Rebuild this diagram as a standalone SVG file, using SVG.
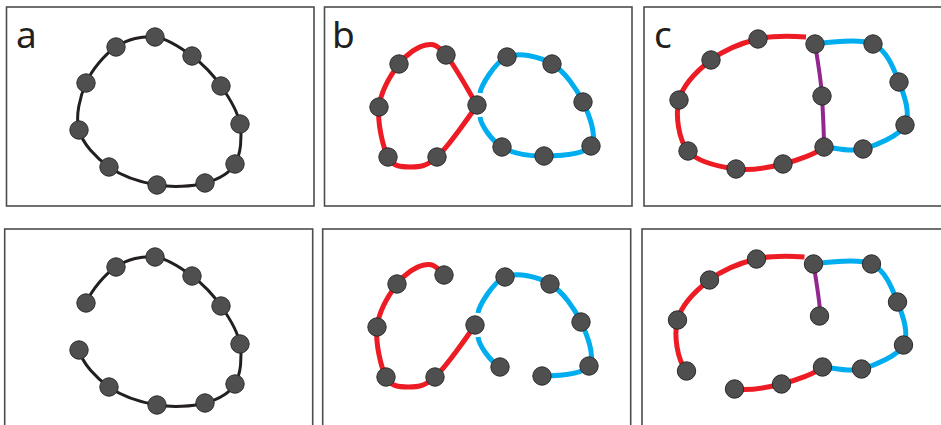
<svg xmlns="http://www.w3.org/2000/svg" width="941" height="425" viewBox="0 0 941 425">
  <style>
    .frame { fill: #ffffff; stroke: #4d4d4d; stroke-width: 1.6; }
    .label { font-family: "Noto Sans", "Open Sans", sans-serif; font-size: 37px; fill: #231f20; }
    .link { fill: none; stroke-linecap: butt; stroke-linejoin: round; }
    .black { stroke: #231f20; stroke-width: 3; }
    .red { stroke: #ed1c24; stroke-width: 5; }
    .blue { stroke: #00aeef; stroke-width: 5; }
    .purple { stroke: #92278f; stroke-width: 4; }
    .node circle { fill: #4f4f50; stroke: #2b2b2b; stroke-width: 1; }
  </style>

  <!-- panel frames -->
  <g id="frames">
    <rect class="frame" x="6.5" y="7" width="307.5" height="199"/>
    <rect class="frame" x="324.5" y="7" width="307.5" height="199"/>
    <rect class="frame" x="644" y="7" width="310" height="199"/>
    <rect class="frame" x="4.7" y="229" width="308" height="210"/>
    <rect class="frame" x="322.7" y="229" width="308" height="210"/>
    <rect class="frame" x="642" y="229" width="310" height="210"/>
  </g>

  <!-- panel letters -->
  <g id="labels">
    <text class="label" x="16" y="48">a</text>
    <text class="label" x="332" y="48">b</text>
    <text class="label" x="654" y="48">c</text>
  </g>

  <!-- connectors -->
  <g id="connectors">
    <!-- a: closed ring -->
    <path class="link black" d="M155,37 C167.67,38.5 181,47.83 192,56 C203,64.17 213,74.67 221,86 C229,97.33 237.67,111 240,124 C242.33,137 240.83,154.17 235,164 C229.17,173.83 218,179.5 205,183 C192,186.5 173,187.67 157,185 C141,182.33 122,176.17 109,167 C96,157.83 82.83,144 79,130 C75.17,116 79.83,96.83 86,83 C92.17,69.17 104.5,54.67 116,47 C127.5,39.33 142.33,35.5 155,37 Z"/>
    <!-- a: opened ring -->
    <path class="link black" transform="translate(0,220)" d="M86,83 C92.17,69.17 104.5,54.67 116,47 C127.5,39.33 142.33,35.5 155,37 C167.67,38.5 181,47.83 192,56 C203,64.17 213,74.67 221,86 C229,97.33 237.67,111 240,124 C242.33,137 240.83,154.17 235,164 C229.17,173.83 218,179.5 205,183 C192,186.5 173,187.67 157,185 C141,182.33 122,176.17 109,167 C96,157.83 82.83,144 79,130"/>

    <!-- b: figure eight -->
    <path class="link blue" d="M480,93 C481,86 494.83,62 507,57 C519.17,52 539.33,56.5 552,64 C564.67,71.5 576.5,88.33 583,102 C589.5,115.67 597.5,137 591,146 C584.5,155 558.83,155.83 544,156 C529.17,156.17 512.83,153.67 502,147 C491.17,140.33 481,125 480,117"/>
    <path class="link red" d="M477,105 C472,97 454.5,65 446,55 C437.5,45 433.83,43.5 426,45 C418.17,46.5 406.83,53.67 399,64 C391.17,74.33 380.83,91.5 379,107 C377.17,122.5 382.83,147 388,157 C393.17,167 401.83,167 410,167 C418.17,167 425.83,167.33 437,157 C448.17,146.67 471,114 477,105"/>
    <!-- b: figure eight with two links cut -->
    <g transform="translate(-2,220)">
      <path class="link blue" d="M480,93 C481,86 494.83,62 507,57 C519.17,52 539.33,56.5 552,64 C564.67,71.5 576.5,88.33 583,102 C589.5,115.67 597.5,137 591,146 C584.5,155 558.83,155.83 544,156"/>
      <path class="link blue" d="M502,147 C491.17,140.33 481,125 480,117"/>
      <path class="link red" d="M446,55 C437.5,45 433.83,43.5 426,45 C418.17,46.5 406.83,53.67 399,64 C391.17,74.33 380.83,91.5 379,107 C377.17,122.5 382.83,147 388,157 C393.17,167 401.83,167 410,167 C418.17,167 425.83,167.33 437,157 C448.17,146.67 471,114 477,105"/>
    </g>

    <!-- c: two rings sharing a bridge -->
    <path class="link red" d="M806,37 C798,36.5 773.83,35.17 758,39 C742.17,42.83 724.17,49.83 711,60 C697.83,70.17 682.83,84.83 679,100 C675.17,115.17 678.5,139.5 688,151 C697.5,162.5 720.17,166.83 736,169 C751.83,171.17 768.33,167.67 783,164 C797.67,160.33 818,153 824,147"/>
    <path class="link blue" d="M815,44 C823,43 859,37.67 873,44 C887,50.33 893.67,68.5 899,82 C904.33,95.5 911,113.83 905,125 C899,136.17 876.5,145.33 863,149 C849.5,152.67 832,147 824,147"/>
    <path class="link purple" d="M815,44 C818,62 821,80 822,96 C823,115 824,130 824,147"/>
    <!-- c: same rings with links cut -->
    <g transform="translate(-1.5,220)">
      <path class="link red" d="M806,37 C798,36.5 773.83,35.17 758,39 C742.17,42.83 724.17,49.83 711,60 C697.83,70.17 682.83,84.83 679,100 C675.17,115.17 678.5,139.5 688,151"/>
      <path class="link red" d="M736,169 C751.83,171.17 768.33,167.67 783,164 C797.67,160.33 818,153 824,147"/>
      <path class="link blue" d="M815,44 C823,43 859,37.67 873,44 C887,50.33 893.67,68.5 899,82 C904.33,95.5 911,113.83 905,125 C899,136.17 876.5,145.33 863,149 C849.5,152.67 832,147 824,147"/>
      <path class="link purple" d="M815,44 C818,62 821,80 822,96"/>
    </g>
  </g>

  <!-- nodes, panel a -->
  <g id="nodes-a-top">
    <g class="node" id="a1-1"><circle cx="155" cy="37" r="9.2"/></g>
    <g class="node" id="a1-2"><circle cx="192" cy="56" r="9.2"/></g>
    <g class="node" id="a1-3"><circle cx="221" cy="86" r="9.2"/></g>
    <g class="node" id="a1-4"><circle cx="240" cy="124" r="9.2"/></g>
    <g class="node" id="a1-5"><circle cx="235" cy="164" r="9.2"/></g>
    <g class="node" id="a1-6"><circle cx="205" cy="183" r="9.2"/></g>
    <g class="node" id="a1-7"><circle cx="157" cy="185" r="9.2"/></g>
    <g class="node" id="a1-8"><circle cx="109" cy="167" r="9.2"/></g>
    <g class="node" id="a1-9"><circle cx="79" cy="130" r="9.2"/></g>
    <g class="node" id="a1-10"><circle cx="86" cy="83" r="9.2"/></g>
    <g class="node" id="a1-11"><circle cx="116" cy="47" r="9.2"/></g>
  </g>
  <g id="nodes-a-bottom" transform="translate(0,220)">
    <g class="node" id="a2-1"><circle cx="155" cy="37" r="9.2"/></g>
    <g class="node" id="a2-2"><circle cx="192" cy="56" r="9.2"/></g>
    <g class="node" id="a2-3"><circle cx="221" cy="86" r="9.2"/></g>
    <g class="node" id="a2-4"><circle cx="240" cy="124" r="9.2"/></g>
    <g class="node" id="a2-5"><circle cx="235" cy="164" r="9.2"/></g>
    <g class="node" id="a2-6"><circle cx="205" cy="183" r="9.2"/></g>
    <g class="node" id="a2-7"><circle cx="157" cy="185" r="9.2"/></g>
    <g class="node" id="a2-8"><circle cx="109" cy="167" r="9.2"/></g>
    <g class="node" id="a2-9"><circle cx="79" cy="130" r="9.2"/></g>
    <g class="node" id="a2-10"><circle cx="86" cy="83" r="9.2"/></g>
    <g class="node" id="a2-11"><circle cx="116" cy="47" r="9.2"/></g>
  </g>

  <!-- nodes, panel b -->
  <g id="nodes-b-top">
    <g class="node" id="b1-x"><circle cx="477" cy="105" r="9.2"/></g>
    <g class="node" id="b1-r1"><circle cx="446" cy="55" r="9.2"/></g>
    <g class="node" id="b1-r2"><circle cx="399" cy="64" r="9.2"/></g>
    <g class="node" id="b1-r3"><circle cx="379" cy="107" r="9.2"/></g>
    <g class="node" id="b1-r4"><circle cx="388" cy="157" r="9.2"/></g>
    <g class="node" id="b1-r5"><circle cx="437" cy="157" r="9.2"/></g>
    <g class="node" id="b1-u1"><circle cx="507" cy="57" r="9.2"/></g>
    <g class="node" id="b1-u2"><circle cx="552" cy="64" r="9.2"/></g>
    <g class="node" id="b1-u3"><circle cx="583" cy="102" r="9.2"/></g>
    <g class="node" id="b1-u4"><circle cx="591" cy="146" r="9.2"/></g>
    <g class="node" id="b1-u5"><circle cx="544" cy="156" r="9.2"/></g>
    <g class="node" id="b1-u6"><circle cx="502" cy="147" r="9.2"/></g>
  </g>
  <g id="nodes-b-bottom" transform="translate(-2,220)">
    <g class="node" id="b2-x"><circle cx="477" cy="105" r="9.2"/></g>
    <g class="node" id="b2-r1"><circle cx="446" cy="55" r="9.2"/></g>
    <g class="node" id="b2-r2"><circle cx="399" cy="64" r="9.2"/></g>
    <g class="node" id="b2-r3"><circle cx="379" cy="107" r="9.2"/></g>
    <g class="node" id="b2-r4"><circle cx="388" cy="157" r="9.2"/></g>
    <g class="node" id="b2-r5"><circle cx="437" cy="157" r="9.2"/></g>
    <g class="node" id="b2-u1"><circle cx="507" cy="57" r="9.2"/></g>
    <g class="node" id="b2-u2"><circle cx="552" cy="64" r="9.2"/></g>
    <g class="node" id="b2-u3"><circle cx="583" cy="102" r="9.2"/></g>
    <g class="node" id="b2-u4"><circle cx="591" cy="146" r="9.2"/></g>
    <g class="node" id="b2-u5"><circle cx="544" cy="156" r="9.2"/></g>
    <g class="node" id="b2-u6"><circle cx="502" cy="147" r="9.2"/></g>
  </g>

  <!-- nodes, panel c -->
  <g id="nodes-c-top">
    <g class="node" id="c1-r1"><circle cx="758" cy="39" r="9.2"/></g>
    <g class="node" id="c1-r2"><circle cx="711" cy="60" r="9.2"/></g>
    <g class="node" id="c1-r3"><circle cx="679" cy="100" r="9.2"/></g>
    <g class="node" id="c1-r4"><circle cx="688" cy="151" r="9.2"/></g>
    <g class="node" id="c1-r5"><circle cx="736" cy="169" r="9.2"/></g>
    <g class="node" id="c1-r6"><circle cx="783" cy="164" r="9.2"/></g>
    <g class="node" id="c1-j1"><circle cx="815" cy="44" r="9.2"/></g>
    <g class="node" id="c1-p"><circle cx="822" cy="96" r="9.2"/></g>
    <g class="node" id="c1-j2"><circle cx="824" cy="147" r="9.2"/></g>
    <g class="node" id="c1-u1"><circle cx="873" cy="44" r="9.2"/></g>
    <g class="node" id="c1-u2"><circle cx="899" cy="82" r="9.2"/></g>
    <g class="node" id="c1-u3"><circle cx="905" cy="125" r="9.2"/></g>
    <g class="node" id="c1-u4"><circle cx="863" cy="149" r="9.2"/></g>
  </g>
  <g id="nodes-c-bottom" transform="translate(-1.5,220)">
    <g class="node" id="c2-r1"><circle cx="758" cy="39" r="9.2"/></g>
    <g class="node" id="c2-r2"><circle cx="711" cy="60" r="9.2"/></g>
    <g class="node" id="c2-r3"><circle cx="679" cy="100" r="9.2"/></g>
    <g class="node" id="c2-r4"><circle cx="688" cy="151" r="9.2"/></g>
    <g class="node" id="c2-r5"><circle cx="736" cy="169" r="9.2"/></g>
    <g class="node" id="c2-r6"><circle cx="783" cy="164" r="9.2"/></g>
    <g class="node" id="c2-j1"><circle cx="815" cy="44" r="9.2"/></g>
    <g class="node" id="c2-p"><circle cx="821" cy="96" r="9.2"/></g>
    <g class="node" id="c2-j2"><circle cx="824" cy="147" r="9.2"/></g>
    <g class="node" id="c2-u1"><circle cx="873" cy="44" r="9.2"/></g>
    <g class="node" id="c2-u2"><circle cx="899" cy="82" r="9.2"/></g>
    <g class="node" id="c2-u3"><circle cx="905" cy="125" r="9.2"/></g>
    <g class="node" id="c2-u4"><circle cx="863" cy="149" r="9.2"/></g>
  </g>
</svg>
